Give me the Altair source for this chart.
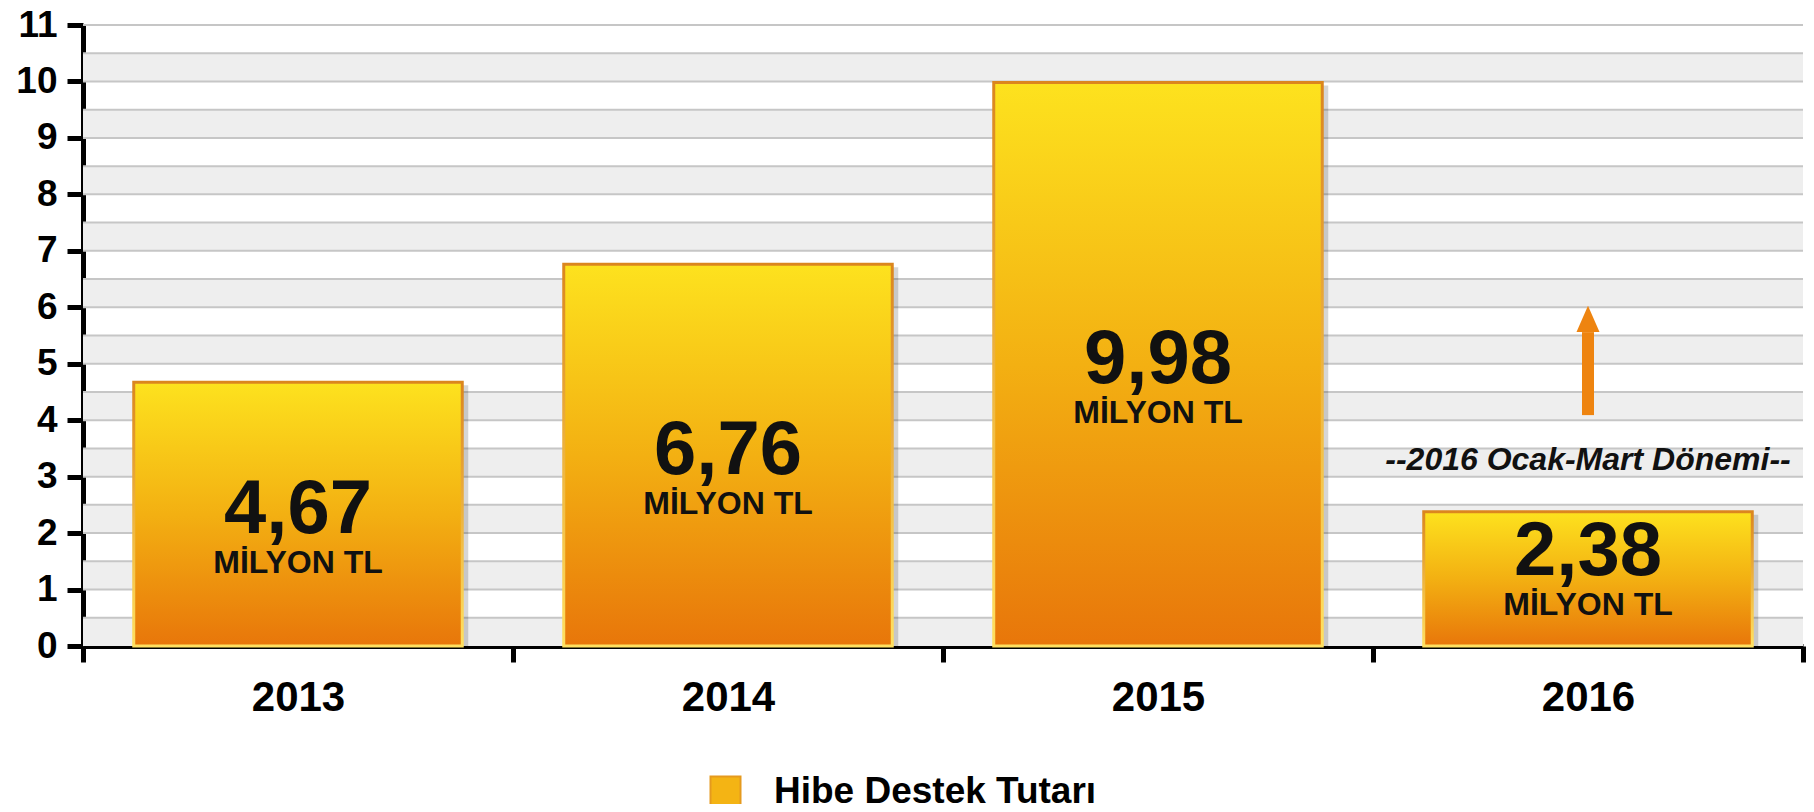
import altair as alt
import pandas as pd

# ---- data ----
years = ["2013", "2014", "2015", "2016"]
values = [4.67, 6.76, 9.98, 2.38]
value_labels = ["4,67", "6,76", "9,98", "2,38"]
unit_label = "MİLYON TL"
series_name = "Hibe Destek Tutarı"

note_text = ["--2016 Ocak-Mart Dönemi--"]
note_year = ["2016"]
note_y = [3.3]

arrow_year = ["2016"]
arrow_from = [4.09]
arrow_to = [5.56]

y_ticks = list(range(0, 12))

# ---- tables ----
df = pd.DataFrame({
    "year": years,
    "value": values,
    "label": value_labels,
    "unit": [unit_label] * len(years),
    "series": [series_name] * len(years),
})
note_df = pd.DataFrame({"year": note_year, "y": note_y, "text": note_text})
arrow_df = pd.DataFrame({"year": arrow_year, "y0": arrow_from, "y1": arrow_to})

FONT = "Liberation Sans"
W, H = 1720, 621
BAR_BAND = 0.764

yscale = alt.Scale(domain=[0, 11], nice=False, zero=True)
yaxis = alt.Axis(
    values=y_ticks, grid=False, title=None,
    domainColor="black", domainWidth=5,
    tickColor="black", tickWidth=5, tickSize=16,
    labelFont=FONT, labelFontSize=37, labelFontWeight="bold",
    labelColor="black", labelPadding=10,
)
xscale = alt.Scale(type="band", domain=years, paddingInner=0, paddingOuter=0)
xaxis = alt.Axis(
    title=None, labelAngle=0, tickBand="extent",
    domainColor="black", domainWidth=5,
    tickColor="black", tickWidth=5, tickSize=16,
    labelFont=FONT, labelFontSize=42, labelFontWeight="bold",
    labelColor="black", labelPadding=15,
)

X = alt.X("year:N", scale=xscale, axis=xaxis)

# alternating background bands
bands = alt.Chart(alt.sequence(0, 11, 1)).transform_calculate(
    top="datum.data + 0.5"
).mark_rect(color="#eeeeee").encode(
    x=alt.value(0), x2=alt.value("width"),
    y=alt.Y("data:Q", scale=yscale, axis=yaxis),
    y2="top:Q",
)

# horizontal gridlines every 0.5
grid = alt.Chart(alt.sequence(0.5, 11.01, 0.5)).mark_rule(
    color="#c6c6c6", strokeWidth=2
).encode(
    x=alt.value(0), x2=alt.value("width"),
    y=alt.Y("data:Q", scale=yscale, axis=yaxis),
)

base = alt.Chart(df)

shadow = base.mark_bar(
    width=alt.RelativeBandSize(BAR_BAND), color="#000000", opacity=0.16,
    xOffset=6, yOffset=3,
).encode(x=X, y=alt.Y("value:Q", scale=yscale, axis=yaxis))

legend_bars = base.mark_bar(width=alt.RelativeBandSize(BAR_BAND)).encode(
    x=X,
    y=alt.Y("value:Q", scale=yscale, axis=yaxis),
    color=alt.Color(
        "series:N",
        scale=alt.Scale(range=["#F4B414"]),
        legend=alt.Legend(
            title=None, orient="none", legendX=624, legendY=748,
            symbolType="square", symbolSize=900,
            symbolStrokeColor="#E59A1E", symbolStrokeWidth=2,
            labelFont=FONT, labelFontSize=37, labelFontWeight="bold",
            labelColor="black", labelOffset=30, padding=0, labelLimit=0,
        ),
    ),
)

fill_grad = alt.Gradient(
    gradient="linear", x1=0, y1=0, x2=0, y2=1,
    stops=[
        alt.GradientStop(offset=0, color="#FDE21E"),
        alt.GradientStop(offset=0.5, color="#F3B012"),
        alt.GradientStop(offset=1, color="#E8760A"),
    ],
)
stroke_grad = alt.Gradient(
    gradient="linear", x1=0, y1=0, x2=0, y2=1,
    stops=[
        alt.GradientStop(offset=0, color="#DB861E"),
        alt.GradientStop(offset=1, color="#FFE060"),
    ],
)

bars = base.mark_bar(
    width=alt.RelativeBandSize(BAR_BAND), color=fill_grad,
    stroke=stroke_grad, strokeWidth=3,
).encode(x=X, y=alt.Y("value:Q", scale=yscale, axis=yaxis))

label_base = base.transform_calculate(ly="max(datum.value / 2, 1.6)")

num_text = label_base.mark_text(
    font=FONT, fontSize=76, fontWeight="bold", color="#111111",
    baseline="middle", dy=-4,
).encode(x=X, y=alt.Y("ly:Q", scale=yscale, axis=yaxis), text="label:N")

unit_text = label_base.mark_text(
    font=FONT, fontSize=32, fontWeight="bold", color="#111111",
    baseline="middle", dy=49,
).encode(x=X, y=alt.Y("ly:Q", scale=yscale, axis=yaxis), text="unit:N")

note = alt.Chart(note_df).mark_text(
    font=FONT, fontSize=32, fontWeight="bold", fontStyle="italic",
    color="#111111", baseline="middle",
).encode(x=X, y=alt.Y("y:Q", scale=yscale, axis=yaxis), text="text:N")

arrow_shaft = alt.Chart(arrow_df).mark_rule(
    color="#EE8410", strokeWidth=12
).encode(
    x=X, y=alt.Y("y0:Q", scale=yscale, axis=yaxis), y2="y1:Q",
)
arrow_head = alt.Chart(arrow_df).mark_point(
    shape="M -1 0 L 1 0 L 0 -2.3 Z", filled=True, size=529,
    color="#EE8410", opacity=1, strokeWidth=0,
).encode(x=X, y=alt.Y("y1:Q", scale=yscale, axis=yaxis))

chart = alt.layer(
    bands, grid, shadow, legend_bars, bars, num_text, unit_text,
    note, arrow_shaft, arrow_head,
).properties(
    width=W, height=H,
    padding={"left": 75, "top": 17, "right": 3, "bottom": 158},
    autosize=alt.AutoSizeParams(type="none"),
).configure_view(stroke=None)

chart.save("out.html", embed_options={"renderer": "svg", "actions": False})
